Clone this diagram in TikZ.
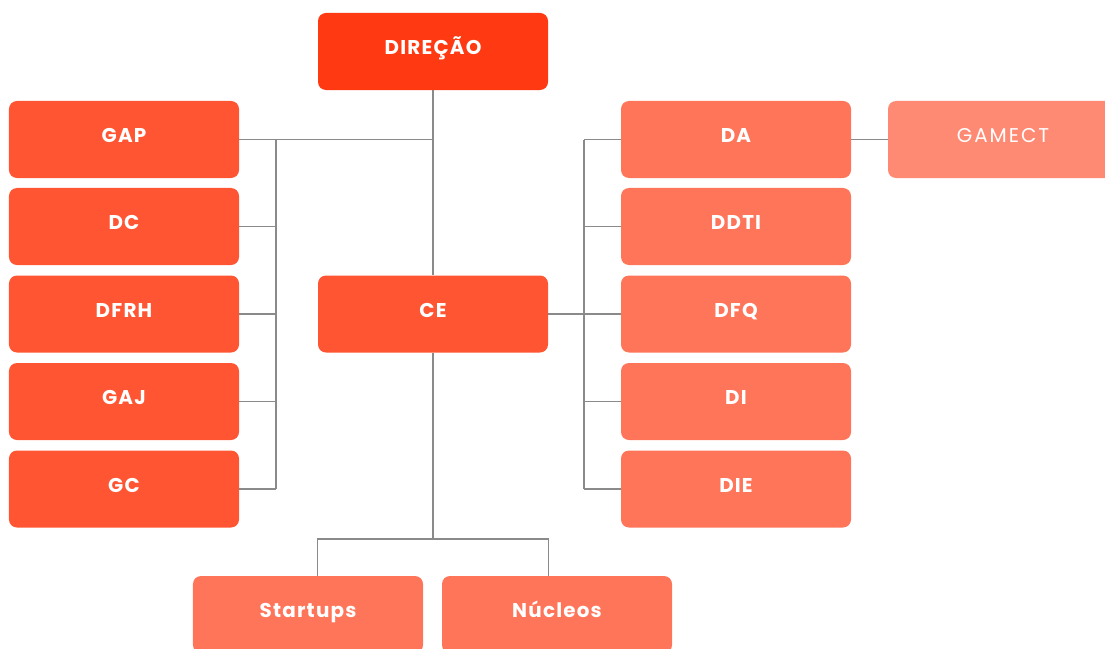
\documentclass[tikz,border=0pt]{standalone}
\usepackage{fontspec}
\setmainfont{Poppins}
\usepackage{tikz}
\definecolor{dirred}{HTML}{FF3A12}
\definecolor{leftred}{HTML}{FF5533}
\definecolor{rightred}{HTML}{FF755A}
\definecolor{lightred}{HTML}{FF8A74}
\definecolor{linegray}{HTML}{8A8A8A}

\begin{document}
\begin{tikzpicture}[x=0.03cm,y=-0.03cm,
    box/.style={rounded corners=0.24cm, minimum width=6.9cm, minimum height=2.31cm,
      text=white, inner sep=0pt, text height=0.7em, text depth=0.15em,
      font=\bfseries\fontsize{17}{20}\selectfont\addfontfeatures{LetterSpace=6}},
    link/.style={draw=linegray, line width=0.9pt}]
  \clip (0,0) rectangle (1105,648);

  \node[box, fill=dirred] (dir) at (433,51.5) {DIREÇÃO};
  \node[box, fill=leftred] (ce) at (433,314) {CE};

  \foreach \name/\txt/\y in {gap/GAP/139.5, dc/DC/226.5, dfrh/DFRH/314, gaj/GAJ/401.5, gc/GC/489}
    \node[box, fill=leftred] (\name) at (124,\y) {\txt};

  \foreach \name/\txt/\y in {da/DA/139.5, ddti/DDTI/226.5, dfq/DFQ/314, di/DI/401.5, die/DIE/489}
    \node[box, fill=rightred] (\name) at (736,\y) {\txt};

  \node[box, fill=lightred, font=\fontsize{17}{20}\selectfont\addfontfeatures{LetterSpace=10}] (gamect) at (1003,139.5) {GAMECT};

  \node[box, fill=rightred] (startups) at (308,614.5) {Startups};
  \node[box, fill=rightred] (nucleos) at (557,614.5) {Núcleos};

  \coordinate (lbus) at (276,139.5);
  \coordinate (rbus) at (584,139.5);
  \coordinate (bbus) at (433,539);

  % left side
  \draw[link] (dir.south) -- (ce.north);
  \draw[link] (gap.east) -- (gap.east -| dir.south);
  \draw[link] (lbus) -- (lbus |- gc.east);
  \foreach \name in {dc,dfrh,gaj,gc}
    \draw[link] (\name.east) -- (\name.east -| lbus);

  % right side
  \draw[link] (ce.east) -- (ce.east -| rbus);
  \draw[link] (rbus) -- (rbus |- die.west);
  \foreach \name in {da,ddti,dfq,di,die}
    \draw[link] (\name.west) -- (\name.west -| rbus);
  \draw[link] (da.east) -- (gamect.west);

  % bottom
  \draw[link] (ce.south) -- (bbus);
  \draw[link] (startups.north -| ce.west) -- (bbus -| ce.west) -- (bbus -| ce.east) -- (nucleos.north -| ce.east);
\end{tikzpicture}
\end{document}
